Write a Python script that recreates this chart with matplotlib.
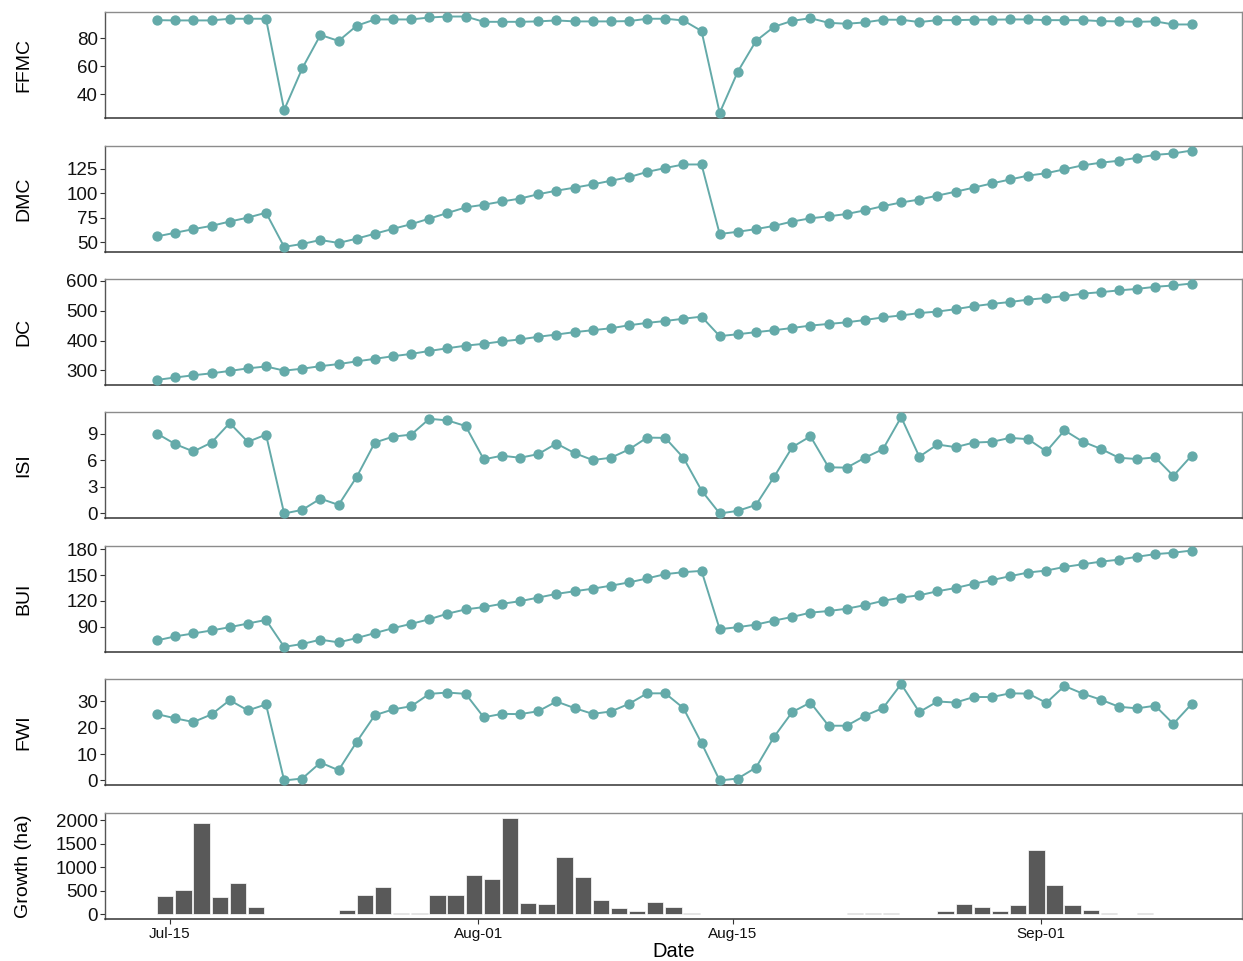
import numpy as np
import pandas as pd
import matplotlib
matplotlib.use("Agg")
import matplotlib.pyplot as plt
import matplotlib.dates as mdates

plt.rcParams["font.family"] = ["Liberation Sans", "DejaVu Sans"]

# Daily observation times (one reading per day)
dates = pd.date_range("2017-07-14 07:00", periods=58, freq="D")

ffmc = [93.0, 92.8, 92.8, 92.8, 94.0, 94.0, 94.0, 28.6, 58.5, 82.4,
        78.1, 89.0, 93.5, 93.5, 93.5, 94.9, 95.6, 95.6, 91.8, 91.8,
        91.8, 92.1, 92.8, 92.1, 92.1, 92.1, 92.3, 94.0, 94.0, 92.8,
        85.2, 26.5, 56.1, 78.1, 88.3, 92.5, 94.4, 91.1, 90.4, 91.4,
        93.3, 93.3, 91.6, 93.0, 93.0, 93.3, 93.3, 93.5, 93.5, 93.0,
        93.0, 93.0, 92.3, 92.1, 91.8, 92.1, 89.9, 89.9]

dmc = [56.0, 59.7, 63.4, 66.7, 71.1, 75.1, 80.1, 45.3, 48.3, 52.3,
       49.3, 53.7, 58.7, 63.7, 68.4, 74.1, 79.8, 85.5, 88.2, 91.5,
       94.5, 98.9, 102.5, 105.6, 108.9, 112.6, 116.3, 121.6, 125.6, 129.2,
       129.2, 58.4, 60.7, 63.4, 66.7, 71.1, 74.4, 76.4, 78.8, 82.5,
       86.8, 90.5, 93.5, 97.5, 101.5, 105.6, 109.9, 113.9, 117.9, 120.3,
       124.3, 128.3, 131.0, 133.0, 136.0, 139.0, 140.4, 143.4]

dc = [268, 276, 283.5, 290, 298, 306.6, 313, 299, 305.5, 314,
      321, 330, 338.6, 347.4, 355, 365, 374, 382.7, 389, 397,
      403.6, 412.5, 420, 428, 434.5, 441, 451, 459, 465.4, 473,
      480, 414.7, 421, 428, 434.5, 442, 450, 455.5, 461, 468.7,
      477.5, 484, 492, 497, 505, 515, 522.7, 529, 537, 542.5,
      549, 557, 562, 568, 573, 580, 584.5, 591]

isi = [9.04, 7.85, 7.02, 8.03, 10.24, 8.11, 8.93, 0.0, 0.41, 1.68,
       0.97, 4.15, 8.03, 8.70, 8.93, 10.72, 10.54, 9.90, 6.13, 6.54,
       6.31, 6.72, 7.92, 6.84, 6.05, 6.31, 7.25, 8.59, 8.56, 6.31,
       2.6, 0.0, 0.3, 0.97, 4.15, 7.51, 8.74, 5.23, 5.19, 6.31,
       7.29, 10.91, 6.43, 7.81, 7.51, 8.03, 8.11, 8.56, 8.41, 7.02,
       9.41, 8.14, 7.32, 6.31, 6.16, 6.35, 4.26, 6.54]

bui = [73.8, 78.5, 81.9, 85.4, 89.2, 93.5, 97.7, 66.2, 69.6, 74.6,
       71.5, 76.5, 82.3, 88.1, 93.1, 98.5, 105.0, 110.0, 112.7, 116.5,
       119.6, 123.8, 128.1, 131.2, 134.2, 137.7, 141.5, 146.2, 151.2, 153.5,
       155.0, 86.9, 89.2, 92.3, 96.9, 101.2, 106.2, 108.1, 110.8, 115.0,
       120.0, 123.8, 126.5, 131.2, 135.0, 140.0, 144.2, 148.8, 153.1, 155.4,
       159.6, 162.7, 165.8, 168.1, 171.5, 174.6, 176.2, 178.8]

fwi = [25.2, 23.6, 22.2, 25.1, 30.5, 26.6, 28.9, 0.0, 0.75, 6.8,
       3.9, 14.7, 24.8, 27.0, 28.2, 32.9, 33.4, 32.9, 24.0, 25.3,
       25.2, 26.3, 30.0, 27.5, 25.3, 26.2, 29.1, 33.1, 33.1, 27.5,
       14.2, 0.0, 0.75, 4.9, 16.6, 26.0, 29.6, 20.8, 20.8, 24.6,
       27.5, 36.6, 26.0, 30.0, 29.6, 31.7, 31.7, 33.1, 33.0, 29.5,
       35.9, 33.0, 30.7, 28.0, 27.4, 28.4, 21.5, 29.0]

growth = [392, 524, 1951, 378, 671, 154, 0, 0, 0, 0,
          91, 406, 594, 42, 22, 413, 413, 832, 762, 2049,
          238, 217, 1224, 790, 301, 140, 84, 259, 154, 42,
          0, 0, 0, 0, 0, 0, 0, 0, 25, 22,
          25, 0, 20, 84, 224, 154, 70, 203, 1378, 622,
          196, 98, 22, 0, 34, 20, 0, 0]

index_names = ["FFMC", "DMC", "DC", "ISI", "BUI", "FWI"]
index_values = [ffmc, dmc, dc, isi, bui, fwi]
index_ticks = [[40, 60, 80], [50, 75, 100, 125], [300, 400, 500, 600],
               [0, 3, 6, 9], [90, 120, 150, 180], [0, 10, 20, 30]]
growth_ticks = [0, 500, 1000, 1500, 2000]
date_ticks = ["2017-07-15", "2017-08-01", "2017-08-15", "2017-09-01"]

LINE_COLOR = "#64AAA9"
BAR_COLOR = "#595959"

W, H = 1243, 961
fig = plt.figure(figsize=(W / 100, H / 100), dpi=100)

left_px, right_px = 105.4, 1241.6
panel_h = 106.0
tops = [11.7, 145.7, 278.7, 412.3, 545.7, 679.3, 813.3]

xmin = dates[0] - pd.Timedelta(days=2.85)
xmax = dates[-1] + pd.Timedelta(days=2.76)


def make_axes(top):
    ax = fig.add_axes([left_px / W, 1 - (top + panel_h) / H,
                       (right_px - left_px) / W, panel_h / H])
    ax.set_xlim(xmin, xmax)
    for side in ("top", "right"):
        ax.spines[side].set_color("#8c8c8c")
        ax.spines[side].set_linewidth(1.0)
    ax.spines["left"].set_color("#555555")
    ax.spines["bottom"].set_color("#333333")
    ax.spines["left"].set_linewidth(1.0)
    ax.spines["bottom"].set_linewidth(1.1)
    ax.tick_params(axis="y", length=3.5, width=0.8, color="#333333",
                   labelsize=13.5, labelcolor="#111111", pad=2)
    ax.yaxis.set_label_coords(-0.0645, 0.5)
    return ax


axes = []
for name, vals, ticks, top in zip(index_names, index_values, index_ticks, tops[:6]):
    ax = make_axes(top)
    ax.plot(dates, vals, color=LINE_COLOR, lw=1.4, marker="o", ms=6.4,
            mec=LINE_COLOR, mfc=LINE_COLOR, zorder=3)
    ax.margins(y=0.05)
    ax.set_yticks(ticks)
    ax.set_ylabel(name, fontsize=14)
    ax.tick_params(axis="x", bottom=False, labelbottom=False)
    axes.append(ax)

# Daily fire growth as bars
axg = make_axes(tops[6])
axg.bar(dates, growth, width=0.9, align="edge", color=BAR_COLOR,
        edgecolor="white", linewidth=0.5)
gmax = max(growth)
axg.set_ylim(-0.05 * gmax, 1.05 * gmax)
axg.set_yticks(growth_ticks)
axg.set_ylabel("Growth (ha)", fontsize=14)
axg.set_xticks(pd.to_datetime(date_ticks))
axg.xaxis.set_major_formatter(mdates.DateFormatter("%b-%d"))
axg.tick_params(axis="x", length=3.5, width=0.8, color="#333333",
                labelsize=11, labelcolor="#111111", pad=2)
axg.set_xlabel("Date", fontsize=14.5, labelpad=1)

fig.savefig("out.png", dpi=100)
